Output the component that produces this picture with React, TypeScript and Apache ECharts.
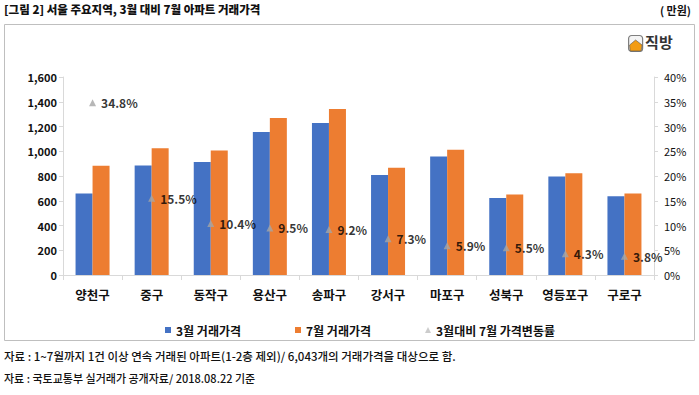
import React, { useEffect, useRef } from "react";
import * as echarts from "echarts";

const categories = ["양천구", "중구", "동작구", "용산구", "송파구", "강서구", "마포구", "성북구", "영등포구", "구로구"];
const marchPrice = [658, 885, 914, 1155, 1228, 809, 958, 623, 796, 637];
const julyPrice = [882, 1025, 1006, 1268, 1341, 866, 1012, 650, 823, 659];
const changeRate = [34.8, 15.5, 10.4, 9.5, 9.2, 7.3, 5.9, 5.5, 4.3, 3.8];
const seriesNames = ["3월 거래가격", "7월 거래가격", "3월대비 7월 가격변동률"];

const FONT = "'Noto Sans CJK KR', 'Noto Sans', sans-serif";

export default function App() {
  const ref = useRef<HTMLDivElement>(null);
  useEffect(() => {
    if (!ref.current) return;
    const chart = echarts.init(ref.current, null, { renderer: "svg" });
    const axisColor = "#d9d9d9";
    chart.setOption({
      animation: false,
      backgroundColor: "#ffffff",
      textStyle: { fontFamily: FONT },
      grid: { left: 63, right: 45, top: 77, bottom: 120, containLabel: false },
      legend: {
        left: 160,
        top: 319,
        itemWidth: 6,
        itemHeight: 6,
        itemGap: 54,
        textStyle: { fontFamily: FONT, fontSize: 12, fontWeight: "bold", color: "#111" },
        data: [
          { name: seriesNames[0], icon: "rect" },
          { name: seriesNames[1], icon: "rect" },
          { name: seriesNames[2], icon: "triangle", itemStyle: { color: "#BFBFBF" } },
        ],
      },
      xAxis: {
        type: "category",
        data: categories,
        axisLine: { lineStyle: { color: axisColor } },
        axisTick: { show: true, length: 5, lineStyle: { color: axisColor } },
        axisLabel: { interval: 0, margin: 13, fontFamily: FONT, fontSize: 12.5, fontWeight: "bold", color: "#111" },
      },
      yAxis: [
        {
          type: "value",
          min: 0,
          max: 1600,
          interval: 200,
          splitLine: { show: false },
          axisLine: { show: true, lineStyle: { color: axisColor } },
          axisTick: { show: true, length: 4, lineStyle: { color: axisColor } },
          axisLabel: {
            margin: 6,
            fontFamily: FONT,
            fontSize: 11,
            fontWeight: "bold",
            color: "#111",
            formatter: (v: number) => v.toLocaleString("en-US"),
          },
        },
        {
          type: "value",
          min: 0,
          max: 40,
          interval: 5,
          position: "right",
          splitLine: { show: false },
          axisLine: { show: true, lineStyle: { color: axisColor } },
          axisTick: { show: true, length: 4, lineStyle: { color: axisColor } },
          axisLabel: { margin: 10, fontFamily: FONT, fontSize: 11, color: "#111", formatter: "{value}%" },
        },
      ],
      series: [
        {
          name: seriesNames[0],
          type: "bar",
          data: marchPrice,
          barWidth: 17,
          barGap: "0%",
          itemStyle: { color: "#4472C4" },
        },
        {
          name: seriesNames[1],
          type: "bar",
          data: julyPrice,
          barWidth: 17,
          barGap: "0%",
          itemStyle: { color: "#ED7D31" },
        },
        {
          name: seriesNames[2],
          type: "scatter",
          yAxisIndex: 1,
          data: changeRate,
          symbol: "triangle",
          symbolSize: 7,
          itemStyle: { color: "#A5A5A5" },
          label: {
            show: true,
            position: "right",
            distance: 5,
            formatter: (p: any) => p.value.toFixed(1) + "%",
            fontFamily: FONT,
            fontSize: 12,
            fontWeight: "bold",
            color: "#000",
          },
          z: 5,
        },
      ],
      graphic: [
        {
          type: "rect",
          shape: { x: 4.5, y: 24.5, width: 690, height: 316 },
          style: { fill: "none", stroke: "#bfbfbf", lineWidth: 1 },
          silent: true,
        },
        {
          type: "text",
          left: 4,
          top: 3,
          style: {
            text: "[그림 2] 서울 주요지역, 3월 대비 7월 아파트 거래가격",
            font: `900 11.5px ${FONT}`,
            fill: "#111",
          },
        },
        {
          type: "text",
          right: 8,
          top: 4,
          style: { text: "( 만원)", font: `bold 11px ${FONT}`, fill: "#111" },
        },
        {
          type: "group",
          left: 628,
          top: 34,
          children: [
            {
              type: "rect",
              shape: { x: 0.5, y: 0.5, width: 14, height: 16, r: 3 },
              style: { fill: "#f4f4f4", stroke: "#7f7f7f", lineWidth: 1.2 },
            },
            {
              type: "polygon",
              shape: { points: [[7.5, 5], [14, 10], [13, 16], [2, 16], [1.5, 10]] },
              style: { fill: "#F39C12", stroke: "#555", lineWidth: 0.6 },
            },
            {
              type: "text",
              style: { x: 17, y: -1, text: "직방", font: `bold 15px ${FONT}`, fill: "#333" },
            },
          ],
        },
        {
          type: "text",
          left: 4,
          top: 350,
          style: {
            text: "자료 : 1~7월까지 1건 이상 연속 거래된 아파트(1-2층 제외)/ 6,043개의 거래가격을 대상으로 함.",
            font: `500 11.5px ${FONT}`,
            fill: "#111",
          },
        },
        {
          type: "text",
          left: 4,
          top: 372,
          style: {
            text: "자료 : 국토교통부 실거래가 공개자료/ 2018.08.22 기준",
            font: `500 11px ${FONT}`,
            fill: "#111",
          },
        },
      ],
    });
    return () => chart.dispose();
  }, []);
  return <div ref={ref} style={{ position: "fixed", left: 0, top: 0, width: 699, height: 395 }} />;
}
